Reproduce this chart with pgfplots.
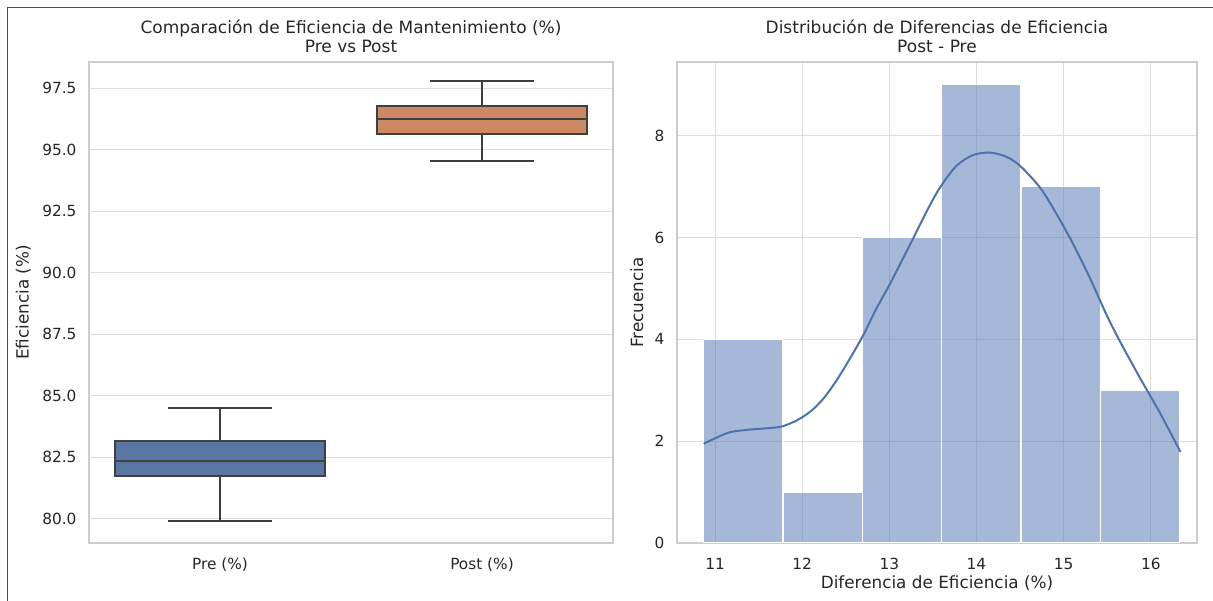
\documentclass[border=0pt]{standalone}
\usepackage{fontspec}
\setmainfont{DejaVu Sans}
\usepackage{pgfplots}
\pgfplotsset{compat=1.18}
\usepgfplotslibrary{statistics}
\definecolor{sbblue}{HTML}{4C72B0}
\definecolor{boxblue}{HTML}{5975A4}
\definecolor{boxorange}{HTML}{CC8963}
\definecolor{edgegray}{HTML}{3F3F3F}
\definecolor{gridgray}{HTML}{DDDDDD}
\definecolor{spinegray}{HTML}{CCCCCC}
\definecolor{txt}{HTML}{262626}
\pgfplotsset{sbaxis/.style={
  scale only axis, height=288.6pt,
  axis line style={spinegray, line width=0.75pt},
  major grid style={gridgray, line width=0.6pt},
  major tick length=0pt,
  ticklabel style={font=\fontsize{9.2}{11}\selectfont, text=txt},
  xticklabel style={yshift=-5.5pt},
  yticklabel style={xshift=-4pt},
  label style={font=\fontsize{10.1}{12}\selectfont, text=txt},
  xlabel style={yshift=3pt},
  title style={font=\fontsize{10.2}{11.5}\selectfont, align=center, text=txt, yshift=-4pt},
  /pgf/number format/assume math mode=true,
}}
\begin{document}
\begin{tikzpicture}
\path[use as bounding box] (0pt,0pt) rectangle (727.8pt,360.6pt);
\draw[color=black!70, line width=0.6pt] (4.2pt,0pt) -- (4.2pt,355.8pt) -- (727.8pt,355.8pt);

\begin{axis}[sbaxis, at={(53.4pt,34.8pt)}, anchor=south west, width=314.4pt,
  xmin=-0.5, xmax=1.5, ymin=79.02, ymax=98.56,
  xtick={0,1}, xticklabels={Pre (\%), Post (\%)},
  ytick={80,82.5,85,87.5,90,92.5,95,97.5},
  yticklabel style={/pgf/number format/.cd, fixed, fixed zerofill, precision=1},
  ymajorgrids=true, xmajorgrids=false,
  ylabel={Eficiencia (\%)},
  title={Comparación de Eficiencia de Mantenimiento (\%)\\Pre vs Post},
  boxplot/draw direction=y]
\addplot[boxplot prepared={draw position=0, lower whisker=79.9, lower quartile=81.75,
  median=82.36, upper quartile=83.18, upper whisker=84.52, box extend=0.8, whisker extend=0.4},
  draw=edgegray, fill=boxblue, line width=1.2pt] coordinates {};
\addplot[boxplot prepared={draw position=1, lower whisker=94.55, lower quartile=95.65,
  median=96.26, upper quartile=96.79, upper whisker=97.77, box extend=0.8, whisker extend=0.4},
  draw=edgegray, fill=boxorange, line width=1.2pt] coordinates {};
\end{axis}

\begin{axis}[sbaxis, at={(406.2pt,34.8pt)}, anchor=south west, width=312pt,
  xmin=10.564, xmax=16.53, ymin=0, ymax=9.45,
  xtick={11,12,13,14,15,16}, ytick={0,2,4,6,8},
  grid=major,
  xlabel={Diferencia de Eficiencia (\%)}, ylabel={Frecuencia},
  title={Distribución de Diferencias de Eficiencia\\Post - Pre}]
\addplot[ybar interval, fill=sbblue, fill opacity=0.5, draw=white, line width=0.7pt]
  coordinates {(10.87,4) (11.78,1) (12.69,6) (13.60,9) (14.51,7) (15.42,3) (16.33,3)};
\addplot[smooth, sbblue, line width=1.2pt, no marks] coordinates {
(10.87,1.95) (11.03,2.08) (11.18,2.18) (11.41,2.23) (11.64,2.26) (11.77,2.29) (11.94,2.41)
(12.10,2.59) (12.25,2.85) (12.40,3.21) (12.55,3.63) (12.70,4.08) (12.85,4.60) (13.01,5.10)
(13.24,5.87) (13.43,6.52) (13.58,6.98) (13.77,7.41) (13.96,7.62) (14.15,7.67) (14.34,7.59)
(14.50,7.41) (14.73,6.98) (14.92,6.46) (15.11,5.87) (15.30,5.21) (15.49,4.49) (15.64,3.98)
(15.88,3.23) (16.11,2.54) (16.34,1.79)};
\end{axis}
\end{tikzpicture}
\end{document}
